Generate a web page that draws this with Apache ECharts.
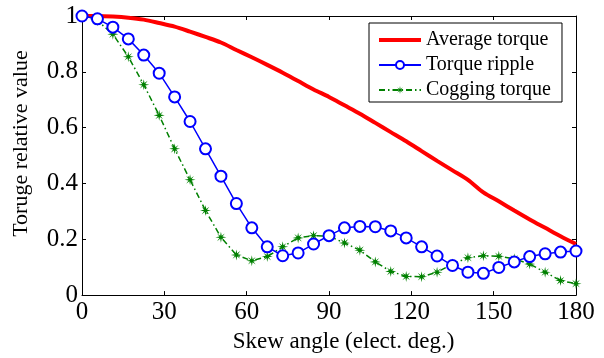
<!DOCTYPE html>
<html>
<head>
<meta charset="utf-8">
<script src="https://cdn.jsdelivr.net/npm/echarts@6/dist/echarts.min.js"></script>
<style>
  html, body { margin: 0; padding: 0; background: #fff; }
  #main { width: 604px; height: 358px; }
</style>
</head>
<body>
<div id="main"></div>
<script>
// skew angles, 180/32 step
const angles = [0, 5.625, 11.25, 16.875, 22.5, 28.125, 33.75, 39.375, 45, 50.625, 56.25, 61.875,
  67.5, 73.125, 78.75, 84.375, 90, 95.625, 101.25, 106.875, 112.5, 118.125, 123.75, 129.375,
  135, 140.625, 146.25, 151.875, 157.5, 163.125, 168.75, 174.375, 180]

const avgTorque = [1.0, 1.0, 0.998, 0.994, 0.987, 0.975, 0.962, 0.944, 0.925, 0.905, 0.878, 0.852,
  0.825, 0.797, 0.767, 0.737, 0.71, 0.68, 0.65, 0.617, 0.584, 0.551, 0.516, 0.481,
  0.447, 0.413, 0.368, 0.336, 0.303, 0.271, 0.241, 0.211, 0.183]

const torqueRipple = [1.0, 0.99, 0.96, 0.918, 0.86, 0.795, 0.71, 0.622, 0.524, 0.426, 0.328, 0.241,
  0.173, 0.141, 0.151, 0.183, 0.213, 0.241, 0.246, 0.245, 0.23, 0.205, 0.173, 0.14,
  0.106, 0.082, 0.078, 0.099, 0.119, 0.138, 0.148, 0.154, 0.158]

const coggingTorque = [1.0, 0.983, 0.935, 0.854, 0.754, 0.644, 0.524, 0.413, 0.303, 0.207, 0.144, 0.123,
  0.138, 0.173, 0.205, 0.213, 0.211, 0.187, 0.161, 0.119, 0.085, 0.067, 0.066, 0.082,
  0.111, 0.134, 0.141, 0.139, 0.13, 0.111, 0.082, 0.052, 0.041]

const font = 'Liberation Serif'
const pairs = (ys) => angles.map((a, i) => [a, ys[i]])

// 8-point asterisk-ish star
const starPath = 'path://M50,0 L57,36 L85,15 L64,43 L100,50 L64,57 L85,85 L57,64 L50,100 L43,64 L15,85 L36,57 L0,50 L36,43 L15,15 L43,36 Z'

const chart = echarts.init(document.getElementById('main'))

const axisCommon = {
  min: 0,
  axisLine: { show: true, onZero: false, lineStyle: { color: '#000', width: 1 } },
  axisTick: { show: true, inside: true, length: 4, lineStyle: { color: '#000' } },
  splitLine: { show: false }
}

chart.setOption({
  animation: false,
  backgroundColor: '#fff',
  grid: { left: 82, right: 28, top: 16, bottom: 59 },
  legend: {
    left: 369, top: 23,
    orient: 'vertical',
    backgroundColor: '#fff',
    borderColor: '#000',
    borderWidth: 1,
    borderRadius: 0,
    padding: [7, 11, 2, 8],
    itemGap: 5,
    itemWidth: 42,
    itemHeight: 10,
    textStyle: { fontFamily: font, fontSize: 20, color: '#000' },
    data: [
      // plain thick line icon for the red curve
      {
        name: 'Average torque',
        itemStyle: { color: 'transparent', borderColor: 'transparent', borderWidth: 0 },
        lineStyle: { color: '#ff0000', width: 4 }
      },
      'Torque ripple',
      'Cogging torque'
    ]
  },
  xAxis: [
    Object.assign({}, axisCommon, {
      type: 'value', max: 180, interval: 30,
      axisLabel: { fontFamily: font, fontSize: 25, color: '#000', margin: 5 },
      name: 'Skew angle (elect. deg.)', nameLocation: 'middle', nameGap: 29,
      nameTextStyle: { fontFamily: font, fontSize: 23, color: '#000', padding: [0, 0, 0, 29] }
    }),
    Object.assign({}, axisCommon, {
      type: 'value', max: 180, interval: 30, position: 'top',
      axisLabel: { show: false }
    })
  ],
  yAxis: [
    Object.assign({}, axisCommon, {
      type: 'value', max: 1, interval: 0.2,
      axisLabel: { fontFamily: font, fontSize: 25, color: '#000', margin: 4 },
      name: 'Toruge relative value', nameLocation: 'middle', nameGap: 50,
      nameTextStyle: { fontFamily: font, fontSize: 22, color: '#000', padding: [0, 0, 0, 24] }
    }),
    Object.assign({}, axisCommon, {
      type: 'value', max: 1, interval: 0.2, position: 'right',
      axisLabel: { show: false }
    })
  ],
  series: [
    {
      name: 'Average torque', type: 'line',
      data: pairs(avgTorque), smooth: 0.3,
      symbol: 'circle', showSymbol: false,
      lineStyle: { color: '#ff0000', width: 4 },
      itemStyle: { color: '#ff0000' },
      z: 2
    },
    {
      name: 'Torque ripple', type: 'line',
      data: pairs(torqueRipple),
      symbol: 'emptyCircle', symbolSize: 11,
      lineStyle: { color: '#0000ff', width: 1.5 },
      itemStyle: { color: '#0000ff', borderColor: '#0000ff', borderWidth: 1.5 },
      z: 4
    },
    {
      name: 'Cogging torque', type: 'line',
      data: pairs(coggingTorque),
      symbol: starPath, symbolSize: 11,
      lineStyle: { color: '#008000', width: 1.5, type: [6, 3, 1.5, 3] },
      itemStyle: { color: '#008000' },
      z: 3
    }
  ]
})
</script>
</body>
</html>
